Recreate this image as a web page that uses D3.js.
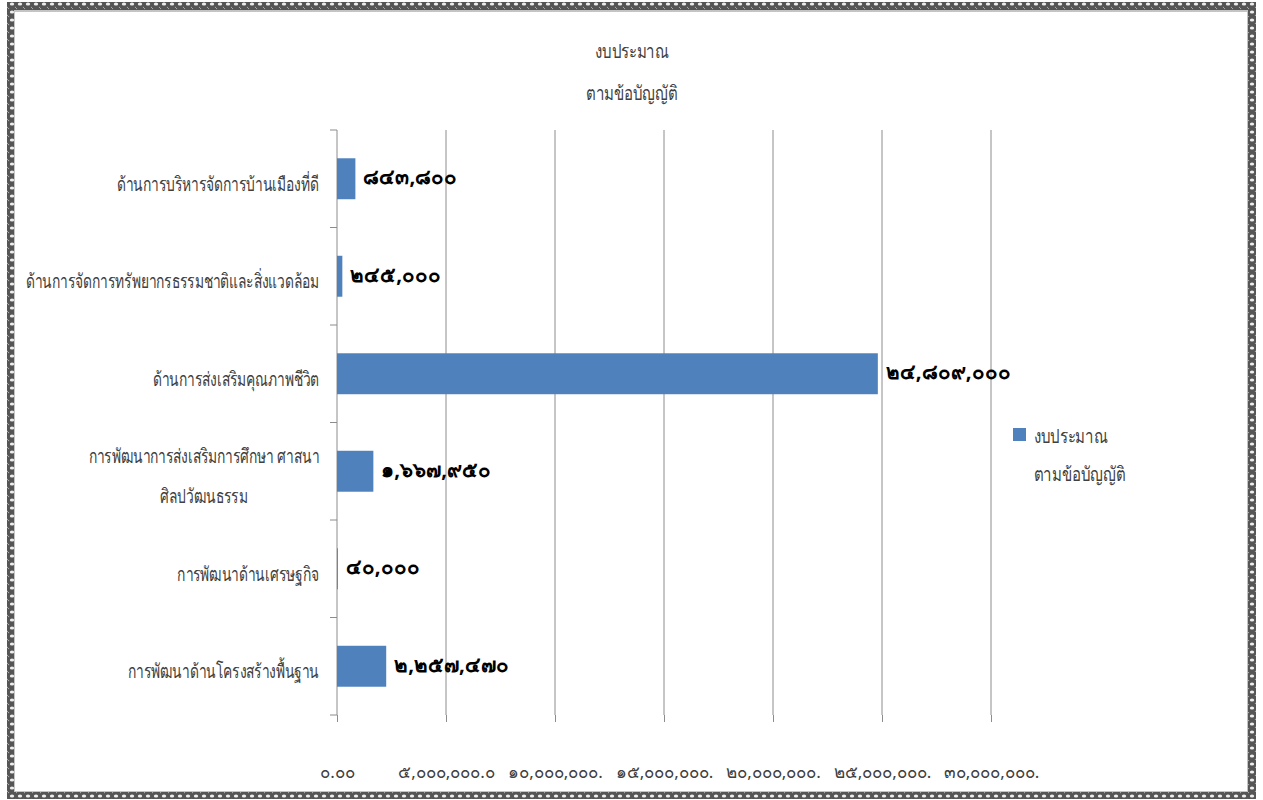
<!DOCTYPE html>
<html>
<head>
<meta charset="utf-8">
<script src="https://cdn.jsdelivr.net/npm/d3@7"></script>
<style>
  body { margin: 0; background: #fff; }
  text { font-family: "Noto Sans", "DejaVu Sans", sans-serif; }
</style>
</head>
<body>
<div id="chart"></div>
<script>
// data
const categories = [
  "ด้านการบริหารจัดการบ้านเมืองที่ดี",
  "ด้านการจัดการทรัพยากรธรรมชาติและสิ่งแวดล้อม",
  "ด้านการส่งเสริมคุณภาพชีวิต",
  "การพัฒนาการส่งเสริมการศึกษา  ศาสนา|ศิลปวัฒนธรรม",
  "การพัฒนาด้านเศรษฐกิจ",
  "การพัฒนาด้านโครงสร้างพื้นฐาน"
];
const budget = [843800, 245000, 24809000, 1667950, 40000, 2257470];
const tickValues = [0, 5000000, 10000000, 15000000, 20000000, 25000000, 30000000];
const tickLabels = ["๐.๐๐", "๕,๐๐๐,๐๐๐.๐", "๑๐,๐๐๐,๐๐๐.", "๑๕,๐๐๐,๐๐๐.", "๒๐,๐๐๐,๐๐๐.", "๒๕,๐๐๐,๐๐๐.", "๓๐,๐๐๐,๐๐๐."];
const titleLines = ["งบประมาณ", "ตามข้อบัญญัติ"];
const seriesName = ["งบประมาณ", "ตามข้อบัญญัติ"];

const thaiDigits = s => s.replace(/[0-9]/g, c => "๐๑๒๓๔๕๖๗๘๙"[+c]);

let svgWidth = 1263, svgHeight = 800;
let margin = { top: 130, right: 272, bottom: 85, left: 337 };
let chartWidth = svgWidth - margin.left - margin.right;
let chartHeight = svgHeight - margin.top - margin.bottom;

let svg = d3.select("#chart").append("svg")
  .attr("width", svgWidth)
  .attr("height", svgHeight);

// decorative frame
let defs = svg.append("defs");
let pat = defs.append("pattern")
  .attr("id", "chain")
  .attr("patternUnits", "userSpaceOnUse")
  .attr("width", 8).attr("height", 8);
pat.append("rect").attr("width", 8).attr("height", 8).attr("fill", "#555");
pat.append("ellipse").attr("cx", 4).attr("cy", 4).attr("rx", 2.2).attr("ry", 1.6).attr("fill", "#eee");
pat.append("circle").attr("cx", 0).attr("cy", 0).attr("r", 1.2).attr("fill", "#aaa");
pat.append("circle").attr("cx", 8).attr("cy", 8).attr("r", 1.2).attr("fill", "#aaa");

svg.append("rect")
  .attr("x", 7).attr("y", 2)
  .attr("width", 1249).attr("height", 797)
  .attr("fill", "url(#chain)");
svg.append("rect")
  .attr("x", 14).attr("y", 10)
  .attr("width", 1234).attr("height", 782)
  .attr("fill", "#c4c4c4");
svg.append("rect")
  .attr("x", 15).attr("y", 12)
  .attr("width", 1232).attr("height", 779)
  .attr("fill", "#fff");

let chartGroup = svg.append("g")
  .attr("transform", `translate(${margin.left}, ${margin.top})`);

let xScale = d3.scaleLinear()
  .domain([0, 30000000])
  .range([0, chartWidth]);

let yScale = d3.scaleBand()
  .domain(categories)
  .range([0, chartHeight])
  .paddingInner(0.58)
  .paddingOuter(0.29);

// gridlines
chartGroup.append("g")
  .selectAll("line")
  .data(tickValues.slice(1))
  .enter()
  .append("line")
  .attr("x1", d => xScale(d)).attr("x2", d => xScale(d))
  .attr("y1", 0).attr("y2", chartHeight)
  .attr("stroke", "#8c8c8c")
  .attr("stroke-width", 1);

// x axis (ticks only)
let xAxis = d3.axisBottom(xScale)
  .tickValues(tickValues)
  .tickSize(7)
  .tickPadding(44)
  .tickFormat((d, i) => tickLabels[i]);

let xg = chartGroup.append("g")
  .attr("transform", `translate(0, ${chartHeight})`)
  .call(xAxis);
xg.select(".domain").remove();
xg.selectAll(".tick line").attr("stroke", "#8c8c8c");
xg.selectAll(".tick text")
  .attr("fill", "#404040")
  .style("font-size", "17px");

// y axis line + boundary ticks
chartGroup.append("line")
  .attr("x1", 0).attr("x2", 0)
  .attr("y1", 0).attr("y2", chartHeight)
  .attr("stroke", "#8c8c8c");

let step = yScale.step();
let bounds = d3.range(categories.length + 1).map(i => i * step);
chartGroup.append("g")
  .selectAll("line")
  .data(bounds)
  .enter()
  .append("line")
  .attr("x1", -7).attr("x2", 0)
  .attr("y1", d => d).attr("y2", d => d)
  .attr("stroke", "#8c8c8c");

// category labels (narrowed to look like the condensed Thai face)
let catG = chartGroup.append("g")
  .selectAll("g")
  .data(categories)
  .enter()
  .append("g")
  .attr("transform", d => `translate(-18, ${yScale(d) + yScale.bandwidth() / 2}) scale(0.71, 1)`);

catG.each(function(d) {
  let lines = d.split("|");
  let t = d3.select(this).append("text")
    .attr("fill", "#404040")
    .style("font-size", "19.5px")
    .attr("text-anchor", "middle");
  lines.forEach((ln, i) => {
    t.append("tspan")
      .attr("x", 0)
      .attr("y", 12 + (i - (lines.length - 1) / 2) * 40)
      .text(ln);
  });
  let w = t.node().getBBox().width;
  t.selectAll("tspan").attr("x", -w / 2);
});

// bars
chartGroup.selectAll("rect.bar")
  .data(budget)
  .enter()
  .append("rect")
  .attr("class", "bar")
  .attr("x", 0)
  .attr("y", (d, i) => yScale(categories[i]))
  .attr("width", d => xScale(d))
  .attr("height", yScale.bandwidth())
  .attr("fill", "#4f81bd");

// value labels
chartGroup.selectAll("text.val")
  .data(budget)
  .enter()
  .append("text")
  .attr("class", "val")
  .attr("x", d => xScale(d) + 8)
  .attr("y", (d, i) => yScale(categories[i]) + yScale.bandwidth() / 2)
  .attr("dominant-baseline", "middle")
  .attr("fill", "#000")
  .style("font-size", "20.5px")
  .style("font-weight", "bold")
  .text(d => thaiDigits(d3.format(",")(d)));

// title
svg.append("g")
  .selectAll("text")
  .data(titleLines)
  .enter()
  .append("text")
  .attr("transform", (d, i) => `translate(632, ${58 + i * 42}) scale(0.77, 1)`)
  .attr("text-anchor", "middle")
  .attr("fill", "#404040")
  .style("font-size", "19.5px")
  .text(d => d);

// legend
let legend = svg.append("g").attr("transform", "translate(1013, 428)");
legend.append("rect")
  .attr("width", 13).attr("height", 13)
  .attr("fill", "#4f81bd");
legend.selectAll("text")
  .data(seriesName)
  .enter()
  .append("text")
  .attr("transform", (d, i) => `translate(21, ${15 + i * 38}) scale(0.77, 1)`)
  .attr("fill", "#404040")
  .style("font-size", "19.5px")
  .text(d => d);
</script>
</body>
</html>
